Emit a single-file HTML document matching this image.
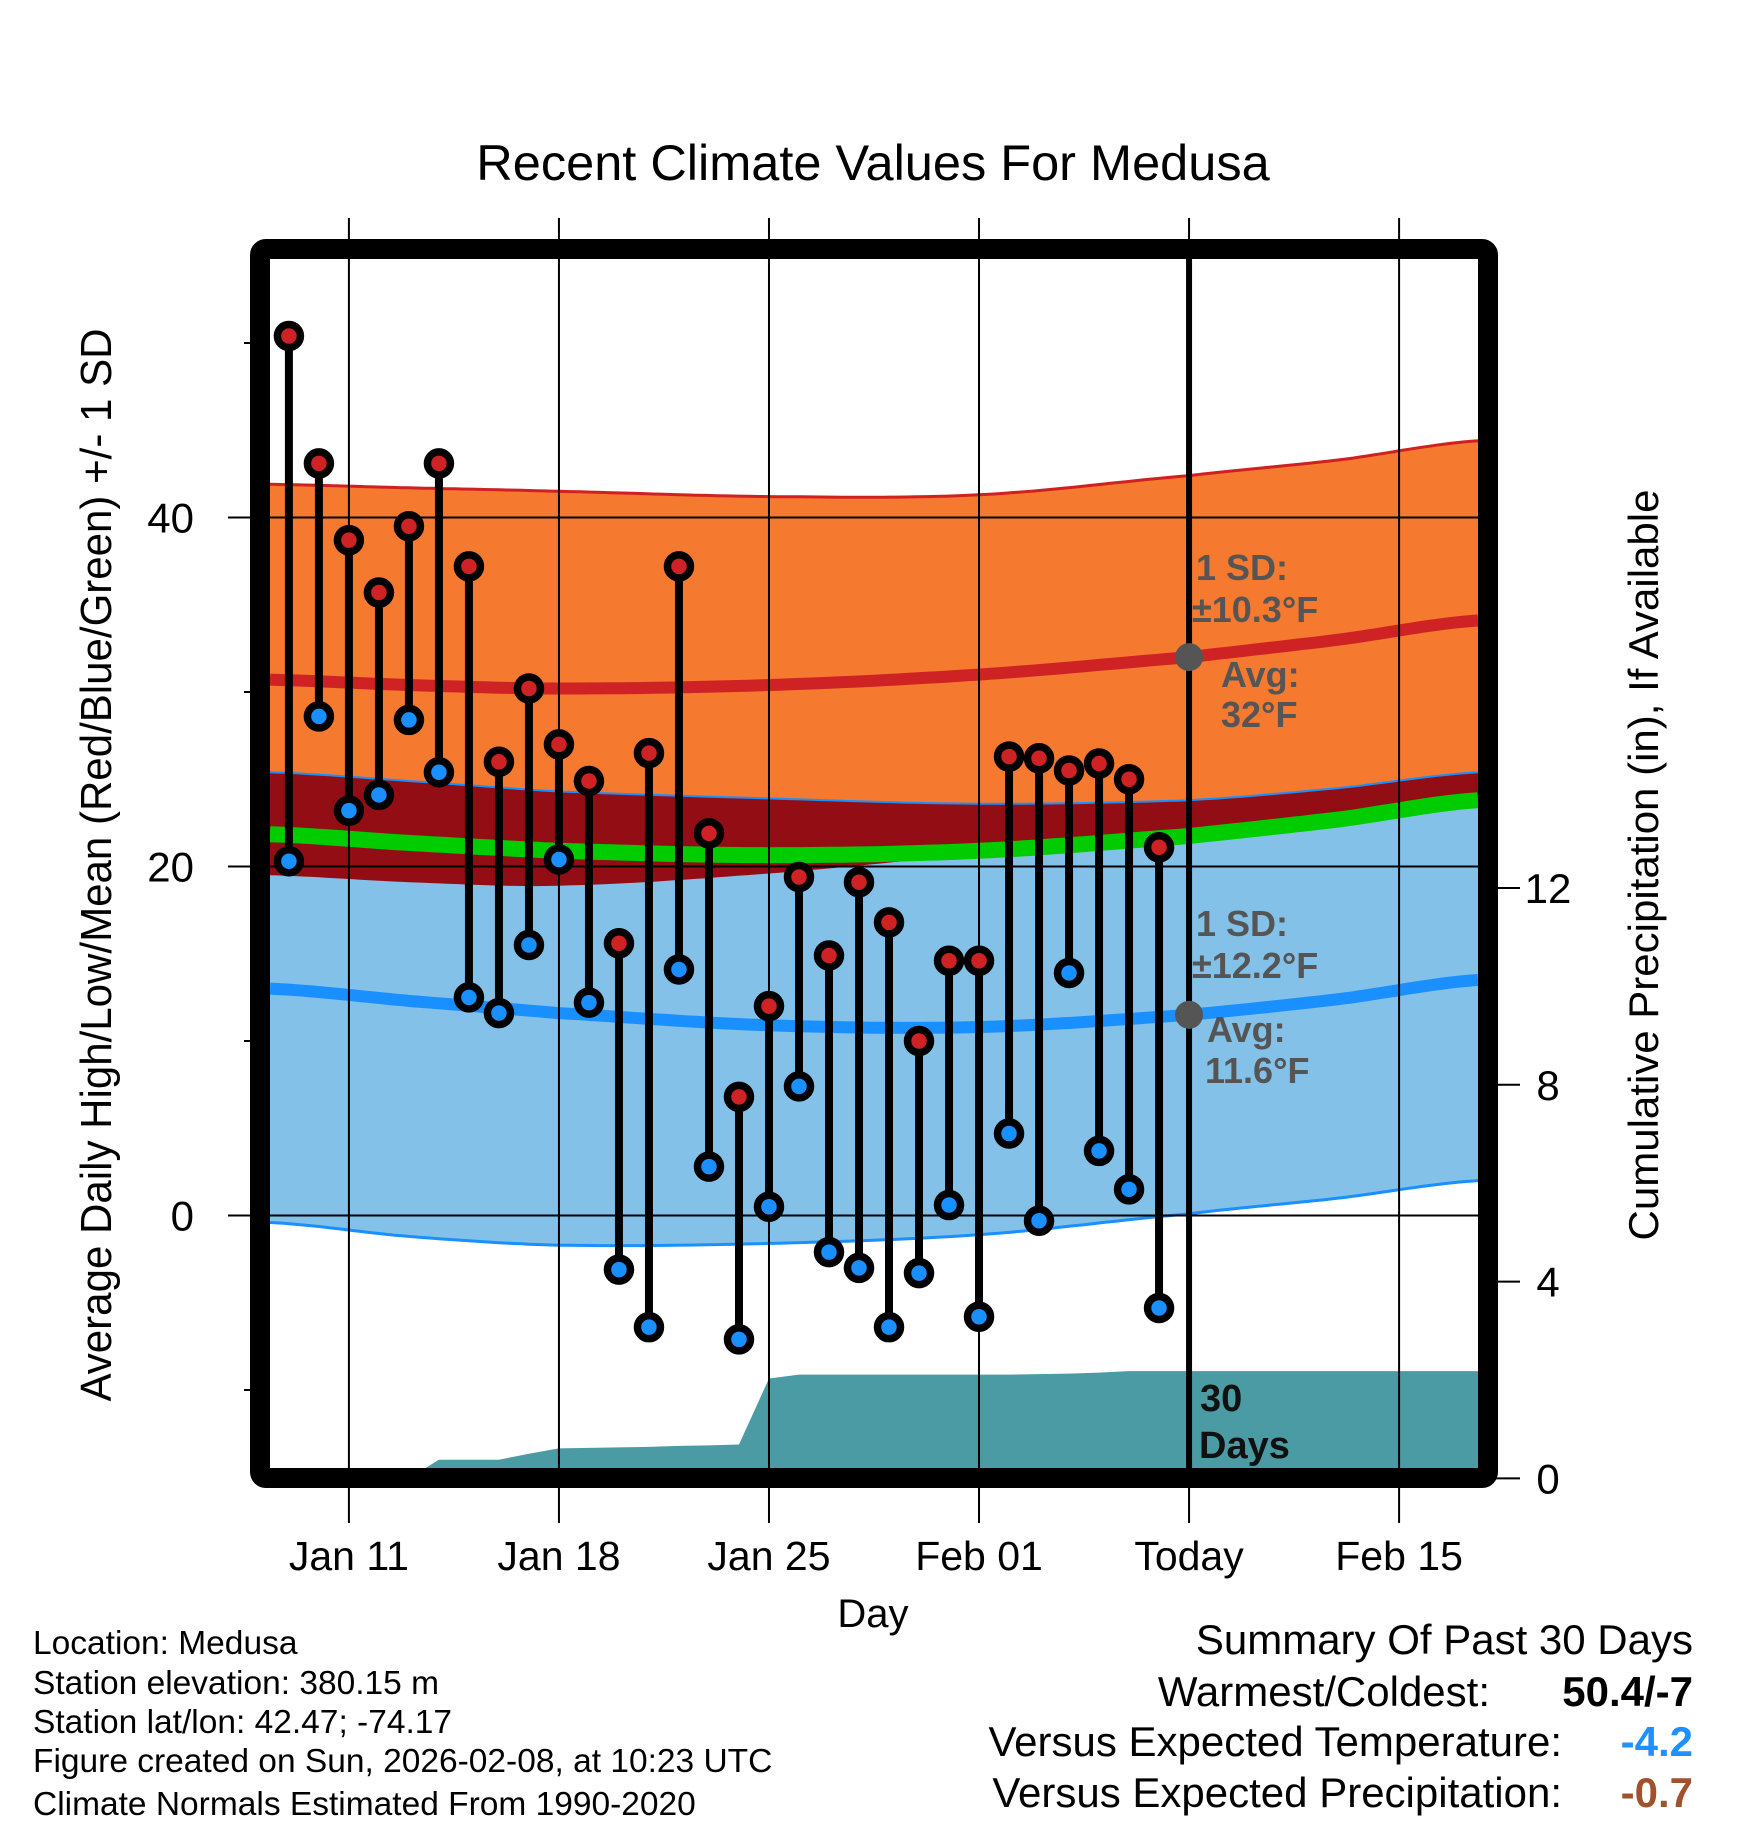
<!DOCTYPE html>
<html><head><meta charset="utf-8"><style>
html,body{margin:0;padding:0;background:#fff;}
svg{display:block;font-family:"Liberation Sans",Arial,sans-serif;}
</style></head><body>
<svg id="chart" width="1748" height="1828" viewBox="0 0 1748 1828" xmlns="http://www.w3.org/2000/svg">
<defs><clipPath id="plotclip"><rect x="270" y="259" width="1208" height="1209"/></clipPath></defs>
<rect x="0" y="0" width="1748" height="1828" fill="#fff"/>
<text x="873" y="180" font-size="50.5" text-anchor="middle">Recent Climate Values For Medusa</text>
<g id="bands" clip-path="url(#plotclip)"></g>
<g id="grid"></g>
<g id="marks" clip-path="url(#plotclip)"></g>
<g id="annot"></g>
<rect x="260" y="249" width="1228" height="1229" fill="none" stroke="#000" stroke-width="20" rx="6"/>
<g id="axes"></g>
<text transform="translate(111,865) rotate(-90)" font-size="44" text-anchor="middle" textLength="1073" lengthAdjust="spacingAndGlyphs">Average Daily High/Low/Mean (Red/Blue/Green) +/- 1 SD</text>
<text transform="translate(1658,865) rotate(-90)" font-size="42" text-anchor="middle">Cumulative Precipitation (in), If Available</text>
<text x="873" y="1627" font-size="40" text-anchor="middle">Day</text>
<g font-size="33.5">
<text x="33" y="1654">Location: Medusa</text>
<text x="33" y="1694">Station elevation: 380.15 m</text>
<text x="33" y="1733">Station lat/lon: 42.47; -74.17</text>
<text x="33" y="1772">Figure created on Sun, 2026-02-08, at 10:23 UTC</text>
<text x="33" y="1815">Climate Normals Estimated From 1990-2020</text>
</g>
<g font-size="42">
<text x="1693" y="1654" text-anchor="end">Summary Of Past 30 Days</text>
<text x="1490" y="1706" text-anchor="end">Warmest/Coldest:</text>
<text x="1693" y="1706" text-anchor="end" font-weight="bold">50.4/-7</text>
<text x="1562" y="1756" text-anchor="end">Versus Expected Temperature:</text>
<text x="1693" y="1756" text-anchor="end" font-weight="bold" fill="#1E90FF">-4.2</text>
<text x="1562" y="1807" text-anchor="end">Versus Expected Precipitation:</text>
<text x="1693" y="1807" text-anchor="end" font-weight="bold" fill="#A0522D">-0.7</text>
</g>
</svg>
<script>
// ---- data ----
const highs = [50.4,43.1,38.7,35.7,39.5,43.1,37.2,26.0,30.2,27.0,24.9,15.6,26.5,37.2,21.9,6.8,12.0,19.4,14.9,19.1,16.8,10.0,14.6,14.6,26.3,26.2,25.5,25.9,25.0,21.1];
const lows = [20.3,28.6,23.2,24.1,28.4,25.4,12.5,11.6,15.5,20.4,12.2,-3.1,-6.4,14.1,2.8,-7.1,0.5,7.4,-2.1,-3.0,-6.4,-3.3,0.6,-5.8,4.7,-0.3,13.9,3.7,1.5,-5.3];
const precipCum = [0,0,0,0,0,0.38,0.38,0.38,0.5,0.61,0.62,0.63,0.64,0.66,0.67,0.69,2.03,2.11,2.11,2.11,2.11,2.11,2.11,2.11,2.11,2.12,2.13,2.15,2.18,2.18];
const normDays = [-0.63,4,9,16,23,30,35,39.63];
const highUpper = [41.9,41.7,41.5,41.2,41.3,42.4,43.3,44.4];
const highMean = [30.7,30.4,30.2,30.4,31.0,32.0,33.0,34.1];
const lowUpper = [25.4,24.9,24.3,23.9,23.6,23.8,24.5,25.4];
const lowMean = [13.0,12.3,11.6,10.9,10.8,11.5,12.4,13.5];
const lowLower = [-0.4,-1.2,-1.7,-1.6,-1.1,0.1,1.0,2.0];
const xTickDays = [2,9,16,23,30,37];
const xTickLabels = ["Jan 11","Jan 18","Jan 25","Feb 01","Today","Feb 15"];
const yTicks = [0,20,40];
const yMinor = [-10,10,30,50];
const pTicks = [0,4,8,12];
const todayDay = 30;

// ---- scales ----
const X0=270, X1=1478, Y0=259, Y1=1468;
const dMin=-0.63, dMax=39.63;
const x = d => X0 + (d-dMin)/(dMax-dMin)*(X1-X0);
const y = t => 1215.5 - 17.45*t;
const yp = p => 1478.4 - 49.2*p;
const NS='http://www.w3.org/2000/svg';
function mk(tag, parent, attrs){const e=document.createElementNS(NS,tag);for(const k in attrs)e.setAttribute(k,attrs[k]);parent.appendChild(e);return e;}

function curve(vals){
  const pts=[];
  for(let i=0;i<normDays.length-1;i++){
    const p0=vals[Math.max(i-1,0)],p1=vals[i],p2=vals[i+1],p3=vals[Math.min(i+2,vals.length-1)];
    const d0=normDays[i],d1=normDays[i+1];
    for(let s=0;s<20;s++){const t=s/20;
      const v=0.5*((2*p1)+(-p0+p2)*t+(2*p0-5*p1+4*p2-p3)*t*t+(-p0+3*p1-3*p2+p3)*t*t*t);
      pts.push([d0+(d1-d0)*t,v]);}
  }
  pts.push([normDays[normDays.length-1],vals[vals.length-1]]);
  return pts;
}
const hU=curve(highUpper), hM=curve(highMean), lU=curve(lowUpper), lM=curve(lowMean), lL=curve(lowLower);
const hL=hU.map((p,i)=>[p[0],2*hM[i][1]-p[1]]);
const mM=hM.map((p,i)=>[p[0],(p[1]+lM[i][1])/2]);
const ovTop=lU.map((p,i)=>[p[0],Math.max(p[1],hL[i][1])]);
const line = pts => pts.map((p,i)=>(i?'L':'M')+x(p[0]).toFixed(1)+','+y(p[1]).toFixed(1)).join('');
const band = (top,bot) => line(top)+bot.slice().reverse().map(p=>'L'+x(p[0]).toFixed(1)+','+y(p[1]).toFixed(1)).join('')+'Z';

const bands=document.getElementById('bands');
let e;
e=mk('path',bands,{d:band(hU,hL),fill:'#F5792E'});


e=mk('path',bands,{d:band(lU,lL),fill:'#84C1E8'});


e=mk('path',bands,{d:band(ovTop,hL),fill:'#930E14'});


e=mk('path',bands,{d:line(hU),fill:'none',stroke:'#D02020','stroke-width':3});


e=mk('path',bands,{d:line(lU),fill:'none',stroke:'#1A8FFF','stroke-width':2});


e=mk('path',bands,{d:line(lL),fill:'none',stroke:'#1A8FFF','stroke-width':3});


e=mk('path',bands,{d:line(mM),fill:'none',stroke:'#00CC00','stroke-width':16});


e=mk('path',bands,{d:line(hM),fill:'none',stroke:'#CF2224','stroke-width':12});


e=mk('path',bands,{d:line(lM),fill:'none',stroke:'#1A8FFF','stroke-width':12});



let pd='M'+x(0)+','+yp(0);
precipCum.forEach((p,i)=>{pd+='L'+x(i).toFixed(1)+','+yp(p).toFixed(1);});
pd+='L'+X1+','+yp(precipCum[precipCum.length-1]).toFixed(1)+'L'+X1+','+yp(0)+'Z';
e=mk('path',bands,{d:pd,fill:'#4A9BA3'});



const grid=document.getElementById('grid');
xTickDays.forEach(d=>{
  e=mk('line',grid,{x1:x(d),x2:x(d),y1:218,y2:1523,stroke:'#000','stroke-width':2});
  
  
});
yTicks.forEach(t=>{
  e=mk('line',grid,{x1:228,x2:X1,y1:y(t),y2:y(t),stroke:'#000','stroke-width':2});
  
  
});

const marks=document.getElementById('marks');
e=mk('line',marks,{x1:x(todayDay),x2:x(todayDay),y1:Y0,y2:Y1,stroke:'#000','stroke-width':6});


highs.forEach((h,i)=>{
  const cx=x(i);
  e=mk('line',marks,{x1:cx,x2:cx,y1:y(h),y2:y(lows[i]),stroke:'#000','stroke-width':8});
  
  
  e=mk('circle',marks,{cx:cx,cy:y(h),r:11.5,fill:'#CF2224',stroke:'#000','stroke-width':7.5});
  
  
  e=mk('circle',marks,{cx:cx,cy:y(lows[i]),r:11.5,fill:'#1A8FFF',stroke:'#000','stroke-width':7.5});
  
  
});

const an=document.getElementById('annot');
const tx=x(todayDay);
function txt(parent,s,xx,yy,attrs){const t=mk('text',parent,Object.assign({x:xx,y:yy},attrs));t.textContent=s;return t;}
const g='#555';
e=mk('circle',an,{cx:tx,cy:y(highMean[5]),r:14,fill:'#555'});


e=mk('circle',an,{cx:tx,cy:y(lowMean[5]),r:14,fill:'#555'});


const ab={'font-size':36,'font-weight':'bold',fill:g};
e=txt(an,'1 SD:',1196,580,ab);


e=txt(an,'±10.3°F',1192,622,ab);


e=txt(an,'Avg:',1221,687,ab);


e=txt(an,'32°F',1221,727,ab);


e=txt(an,'1 SD:',1196,936,ab);


e=txt(an,'±12.2°F',1192,978,ab);


e=txt(an,'Avg:',1207,1042,ab);


e=txt(an,'11.6°F',1205,1083,ab);


const db={'font-size':38,'font-weight':'bold',fill:'#111'};
e=txt(an,'30',1200,1411,db);


e=txt(an,'Days',1199,1458,db);



const ax=document.getElementById('axes');
yTicks.forEach(t=>{
  e=txt(ax,String(t),194,y(t)+15,{'font-size':42,'text-anchor':'end'});
  
  
});
yMinor.forEach(t=>{
  e=mk('line',ax,{x1:244,x2:252,y1:y(t),y2:y(t),stroke:'#000','stroke-width':2});
  
  
});
pTicks.forEach(p=>{
  e=mk('line',ax,{x1:1496,x2:1520,y1:yp(p),y2:yp(p),stroke:'#000','stroke-width':2});
  
  
  e=txt(ax,String(p),1548,yp(p)+15,{'font-size':42,'text-anchor':'middle'});
  
  
});
xTickDays.forEach((d,i)=>{
  e=txt(ax,xTickLabels[i],x(d),1570,{'font-size':41,'text-anchor':'middle'});
  
  
});
</script>
</body></html>
